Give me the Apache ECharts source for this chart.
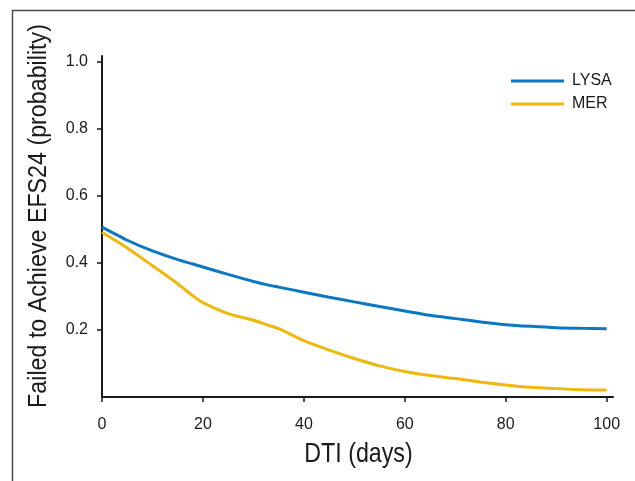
<!DOCTYPE html>
<html>
<head>
<meta charset="utf-8">
<script src="https://cdn.jsdelivr.net/npm/echarts@6/dist/echarts.min.js"></script>
<style>
  html, body { margin: 0; padding: 0; background: #fff; }
  #chart { width: 635px; height: 481px; }
</style>
</head>
<body>
<div id="chart"></div>
<script>
// Days from diagnosis to treatment (DTI)
const dtiDays = [0, 5, 10, 15, 18, 20, 25, 30, 33, 35, 40, 45, 50, 55, 60, 65, 70, 75, 80, 85, 90, 95, 100];

// Probability of failing to achieve EFS24, by cohort
const lysaValues = [0.507, 0.468, 0.436, 0.410, 0.397, 0.388, 0.366, 0.345, 0.334, 0.328, 0.313, 0.298, 0.284, 0.270, 0.257, 0.244, 0.234, 0.224, 0.216, 0.211, 0.207, 0.205, 0.204];
const merValues  = [0.492, 0.445, 0.392, 0.338, 0.302, 0.282, 0.249, 0.229, 0.214, 0.204, 0.168, 0.140, 0.115, 0.093, 0.076, 0.064, 0.055, 0.045, 0.036, 0.029, 0.025, 0.022, 0.021];

const xTicks = [0, 20, 40, 60, 80, 100];
const yTicks = [0.2, 0.4, 0.6, 0.8, 1.0];

const seriesNames = ['LYSA', 'MER'];
const seriesColors = ['#0a78c2', '#efb80c'];

const xTitle = 'DTI (days)';
const yTitle = 'Failed to Achieve EFS24 (probability)';

const pairs = vals => dtiDays.map((d, i) => [d, vals[i]]);

const chart = echarts.init(document.getElementById('chart'), null, { renderer: 'canvas' });

const axisFont = 'Liberation Sans, Arial, sans-serif';
const ink = '#1a1a1a';

chart.setOption({
  animation: false,
  backgroundColor: '#fff',
  graphic: [
    {
      // panel frame
      type: 'rect',
      left: 10, top: 8,
      shape: { width: 700, height: 600 },
      style: { fill: 'none', stroke: '#4a4a4a', lineWidth: 1.5 },
      silent: true
    },
    {
      // x-axis title, set in a condensed width
      type: 'text',
      x: 358.5, y: 454,
      scaleX: 0.83,
      style: {
        text: xTitle,
        font: '28px "Liberation Sans", Arial, sans-serif',
        fill: ink,
        align: 'center',
        verticalAlign: 'middle'
      },
      silent: true
    },
    {
      // y-axis title, rotated to read upward
      type: 'text',
      x: 39, y: 216,
      rotation: Math.PI / 2,
      scaleX: 0.93,
      style: {
        text: yTitle,
        font: '25px "Liberation Sans", Arial, sans-serif',
        fill: ink,
        align: 'center',
        verticalAlign: 'middle'
      },
      silent: true
    }
  ],
  legend: {
    orient: 'vertical',
    left: 506,
    top: 68,
    itemWidth: 53,
    itemHeight: 3,
    itemGap: 7,
    icon: 'rect',
    textStyle: { fontFamily: axisFont, fontSize: 16, color: ink, padding: [0, 0, 0, 3] },
    data: seriesNames
  },
  grid: { left: 102, top: 56, width: 511, height: 341, containLabel: false },
  xAxis: {
    type: 'value',
    min: 0,
    max: 101.25,
    axisLine: { show: true, lineStyle: { color: ink, width: 2 } },
    axisTick: { show: true, length: 5, inside: false, customValues: xTicks, lineStyle: { color: ink, width: 1.5 } },
    axisLabel: { customValues: xTicks, margin: 20, fontFamily: axisFont, fontSize: 16, color: ink },
    splitLine: { show: false }
  },
  yAxis: {
    type: 'value',
    min: 0,
    max: 1.018,
    axisLine: { show: true, lineStyle: { color: ink, width: 2 } },
    axisTick: { show: true, length: 5, inside: false, customValues: yTicks, lineStyle: { color: ink, width: 1.5 } },
    axisLabel: {
      customValues: yTicks,
      margin: 14,
      fontFamily: axisFont, fontSize: 16, color: ink,
      formatter: v => v.toFixed(1)
    },
    splitLine: { show: false }
  },
  series: seriesNames.map((name, i) => ({
    name,
    type: 'line',
    data: pairs(i === 0 ? lysaValues : merValues),
    smooth: 0.25,
    showSymbol: false,
    symbol: 'none',
    color: seriesColors[i],
    lineStyle: { color: seriesColors[i], width: 3 }
  }))
});
</script>
</body>
</html>
